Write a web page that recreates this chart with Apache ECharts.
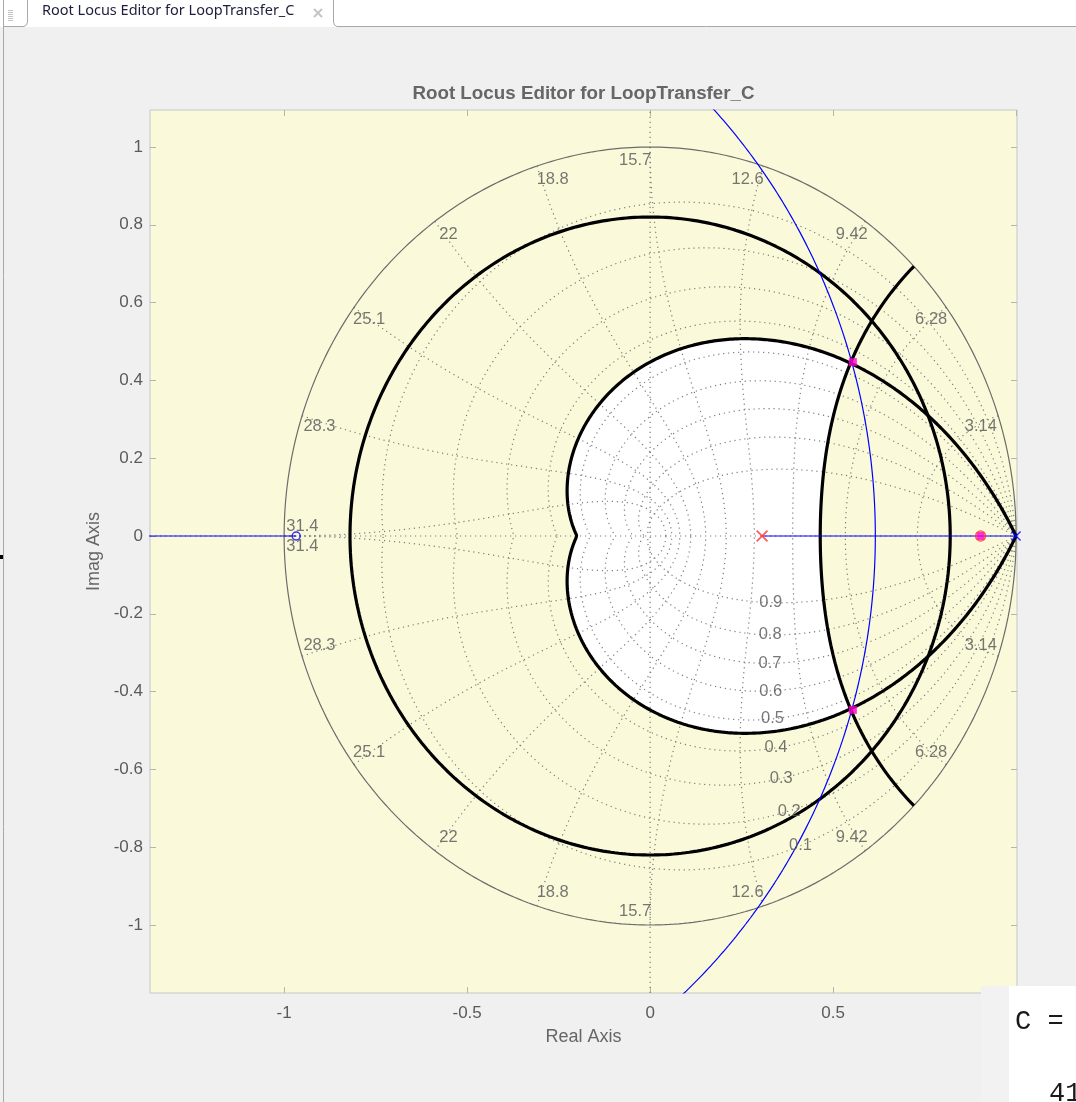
<!DOCTYPE html>
<html>
<head>
<meta charset="utf-8">
<title>Root Locus Editor for LoopTransfer_C</title>
<script src="https://cdn.jsdelivr.net/npm/echarts@6/dist/echarts.min.js"></script>
<style>
  html, body { margin: 0; padding: 0; background: #f0f0f0; }
  #chart { width: 1076px; height: 1102px; }
</style>
</head>
<body>
<div id="chart"></div>
<script>
// ---- z-plane grid (sample time 0.1 s) ----
const dampingGrid = [0.1, 0.2, 0.3, 0.4, 0.5, 0.6, 0.7, 0.8, 0.9];
const wnGridSteps = [1, 2, 3, 4, 5, 6, 7, 8, 9, 10];            // wn*T = k*pi/10
const wnGridLabels = ['3.14', '6.28', '9.42', '12.6', '15.7', '18.8', '22', '25.1', '28.3', '31.4'];
const dampingLabelWnT = 0.35 * Math.PI;                          // damping labels sit on this wn*T

// ---- design requirements ----
const overshootDamping = 0.456;   // 20 % overshoot boundary
const settlingRadius = 0.82;      // settling-time circle
const minWnT = 0.766;             // natural-frequency boundary (wn*T)

// ---- open-loop dynamics ----
const plantPoles = [1.0];
const plantZeros = [-0.967];
const compPoles = [0.306];
const compZeros = [0.903];
const closedLoopPoles = [[0.554, 0.447], [0.554, -0.447], [0.903, 0]];

// ---- axes ----
const xTicks = [-1, -0.5, 0, 0.5, 1];
const yTicks = [-1, -0.8, -0.6, -0.4, -0.2, 0, 0.2, 0.4, 0.6, 0.8, 1];
const xRange = [-1.3665, 1.0025];
const yRange = [-1.1748, 1.0951];

// ---- curve helpers ----
function zetaPoint(zeta, theta) {
  const a = zeta / Math.sqrt(1 - zeta * zeta);
  const r = Math.exp(-a * theta);
  return [r * Math.cos(theta), r * Math.sin(theta)];
}
function wnPoint(wT, zeta) {
  const r = Math.exp(-zeta * wT);
  const ang = wT * Math.sqrt(1 - zeta * zeta);
  return [r * Math.cos(ang), r * Math.sin(ang)];
}
function sampleZeta(zeta, t0, t1, n) {
  const out = [];
  for (let i = 0; i <= n; i++) out.push(zetaPoint(zeta, t0 + (t1 - t0) * i / n));
  return out;
}
// damping is swept as cos(t) so points are spread evenly along the curve
function sampleWn(wT, zFrom, zTo, n) {
  const a = Math.acos(zFrom), b = Math.acos(zTo), out = [];
  for (let i = 0; i <= n; i++) out.push(wnPoint(wT, Math.cos(a + (b - a) * i / n)));
  return out;
}
function mirror(pts) { return pts.map(p => [p[0], -p[1]]); }
function circle(cx, r, a0, a1, n) {
  const out = [];
  for (let i = 0; i <= n; i++) {
    const t = a0 + (a1 - a0) * i / n;
    out.push([cx + r * Math.cos(t), r * Math.sin(t)]);
  }
  return out;
}

// ---- allowed region (inside the damping curve, inside the wn curve) ----
const thetaCorner = minWnT * Math.sqrt(1 - overshootDamping * overshootDamping);
const upperWnEdge = sampleWn(minWnT, 1, overshootDamping, 80);
const upperZetaEdge = sampleZeta(overshootDamping, thetaCorner, Math.PI, 240);
const allowedRegion = [].concat(
  upperWnEdge, upperZetaEdge,
  mirror(upperZetaEdge).reverse(), mirror(upperWnEdge).reverse()
);

// ---- root locus branch: circle about the zero through both real poles ----
const locusRadius = Math.sqrt((plantPoles[0] - plantZeros[0]) * (compPoles[0] - plantZeros[0]));
const locusArc = circle(plantZeros[0], locusRadius, -1.3, 1.3, 400);

const FONT = 'Liberation Sans';
const dotted = { color: '#7c7c7c', width: 1.2, type: [1.2, 3.8] };

const series = [];

// allowed region fill
series.push({
  type: 'custom', coordinateSystem: 'cartesian2d', clip: true, silent: true, z: 1,
  data: [[0, 0]],
  renderItem: function (params, api) {
    return {
      type: 'polygon',
      shape: { points: allowedRegion.map(p => api.coord(p)) },
      style: { fill: '#ffffff' }
    };
  }
});

function addLine(data, lineStyle, z) {
  series.push({
    type: 'line', data: data, showSymbol: false, symbol: 'none', silent: true,
    lineStyle: lineStyle, z: z, clip: true
  });
}

// grid: constant damping curves
dampingGrid.forEach(zeta => {
  const up = sampleZeta(zeta, 0, Math.PI, 240);
  addLine(up, dotted, 2);
  addLine(mirror(up), dotted, 2);
});
// grid: constant natural frequency curves
wnGridSteps.forEach(k => {
  const up = sampleWn(k * Math.PI / 10, 0, 1, 120);
  addLine(up, dotted, 2);
  addLine(mirror(up), dotted, 2);
});
// real and imaginary axes
addLine([[xRange[0], 0], [xRange[1], 0]], dotted, 2);
addLine([[0, yRange[0]], [0, yRange[1]]], dotted, 2);
// unit circle
addLine(circle(0, 1, 0, 2 * Math.PI, 480), { color: '#6c6c6c', width: 1.2 }, 3);

// design requirement boundaries
const req = { color: '#000000', width: 3.2 };
addLine(circle(0, settlingRadius, 0, 2 * Math.PI, 480), req, 4);
const zetaBound = sampleZeta(overshootDamping, 0, Math.PI, 300);
addLine(zetaBound.concat(mirror(zetaBound).reverse()), req, 4);
const wnBound = sampleWn(minWnT, 0, 1, 120);
addLine(wnBound.concat(mirror(wnBound).reverse()), req, 4);

// root locus
const locusStyle = { color: '#0000ff', width: 1.2 };
addLine(locusArc, locusStyle, 5);
addLine([[compPoles[0], 0], [plantPoles[0], 0]], locusStyle, 5);
addLine([[xRange[0] - 1, 0], [plantZeros[0], 0]], locusStyle, 5);

// markers
const crossPath = 'path://M0,1L1,0L5,4L9,0L10,1L6,5L10,9L9,10L5,6L1,10L0,9L4,5Z';
function addMarkers(data, symbol, size, itemStyle) {
  series.push({
    type: 'scatter', data: data, symbol: symbol, symbolSize: size,
    itemStyle: itemStyle, silent: true, z: 6, clip: true
  });
}
addMarkers(closedLoopPoles, 'rect', 8, { color: '#ff00c8' });
addMarkers(compZeros.map(v => [v, 0]), 'circle', 10,
  { color: 'transparent', borderColor: '#ff4040', borderWidth: 1.5 });
addMarkers(compPoles.map(v => [v, 0]), crossPath, 12, { color: '#ff3030' });
addMarkers(plantPoles.map(v => [v, 0]), crossPath, 10, { color: '#0000ff' });
addMarkers(plantZeros.map(v => [v, 0]), 'circle', 8,
  { color: 'transparent', borderColor: '#0000ff', borderWidth: 1.5 });

// grid labels
const gridLabelStyle = {
  show: true, position: 'inside', formatter: '{b}',
  color: '#555555', fontSize: 16.5, fontFamily: FONT
};
const wnLabelData = [];
wnGridSteps.forEach((k, i) => {
  const th = k * Math.PI / 10;
  const s = Math.sin(th), c = Math.cos(th);
  const dy = k === 10 ? -10 : 10 - 16 * s;
  const dx = -Math.sign(c) * 15 * Math.pow(s, 8);     // pull the steep labels toward the imaginary axis
  const x = 0.95 * c, y = 0.95 * s;
  wnLabelData.push({ name: wnGridLabels[i], value: [x, y], label: { offset: [dx, dy] } });
  wnLabelData.push({ name: wnGridLabels[i], value: [x, -y], label: { offset: [dx, -dy] } });
});
const dampingLabelData = dampingGrid.map(zeta => {
  const p = wnPoint(dampingLabelWnT, zeta);
  return { name: String(zeta), value: [p[0], -p[1]] };
});
[wnLabelData, dampingLabelData].forEach(d => {
  series.push({
    type: 'scatter', data: d, symbolSize: 1, silent: true, z: 7,
    itemStyle: { color: 'transparent' }, label: gridLabelStyle
  });
});

const tickStyle = { show: true, inside: true, length: 6, lineStyle: { color: '#b4b4b4' } };
const hiddenLine = { show: false, onZero: false };
const chromeLine = { stroke: '#a8a8a8', lineWidth: 1, fill: 'none' };

const chart = echarts.init(document.getElementById('chart'), null, { renderer: 'canvas' });
chart.setOption({
  animation: false,
  backgroundColor: '#f0f0f0',
  textStyle: { fontFamily: FONT },
  title: {
    text: 'Root Locus Editor for LoopTransfer_C',
    left: 578.5, top: 88.5, textAlign: 'center', textVerticalAlign: 'middle',
    textStyle: { fontFamily: FONT, fontSize: 18.8, fontWeight: 'bold', color: '#666666' }
  },
  grid: {
    left: 150, top: 110, width: 867, height: 883,
    show: true, backgroundColor: '#fafadb', borderColor: '#c6c6c6', borderWidth: 1
  },
  xAxis: [{
    type: 'value', position: 'bottom', min: xRange[0], max: xRange[1],
    name: 'Real Axis', nameLocation: 'middle', nameGap: 35,
    nameTextStyle: { fontFamily: FONT, fontSize: 18, color: '#666666' },
    axisLine: hiddenLine, splitLine: { show: false },
    axisTick: Object.assign({ customValues: xTicks }, tickStyle),
    axisLabel: { customValues: xTicks, margin: 12, color: '#5a5a5a', fontSize: 17, fontFamily: FONT }
  }, {
    type: 'value', position: 'top', min: xRange[0], max: xRange[1],
    axisLine: hiddenLine, splitLine: { show: false },
    axisTick: Object.assign({ customValues: xTicks }, tickStyle),
    axisLabel: { show: false }
  }],
  yAxis: [{
    type: 'value', position: 'left', min: yRange[0], max: yRange[1],
    name: 'Imag Axis', nameLocation: 'middle', nameGap: 38,
    nameTextStyle: { fontFamily: FONT, fontSize: 18, color: '#666666' },
    axisLine: hiddenLine, splitLine: { show: false },
    axisTick: Object.assign({ customValues: yTicks }, tickStyle),
    axisLabel: { customValues: yTicks, margin: 7, color: '#5a5a5a', fontSize: 17, fontFamily: FONT }
  }, {
    type: 'value', position: 'right', min: yRange[0], max: yRange[1],
    axisLine: hiddenLine, splitLine: { show: false },
    axisTick: Object.assign({ customValues: yTicks }, tickStyle),
    axisLabel: { show: false }
  }],
  series: series,
  graphic: [
    // document tab strip
    { type: 'rect', shape: { x: 0, y: 0, width: 1076, height: 27 }, style: { fill: '#ffffff' }, z: 10 },
    { type: 'polyline', shape: { points: [[27.5, 0], [27.5, 22], [26.5, 25], [24, 26.5], [3.5, 26.5]] },
      style: chromeLine, z: 11 },
    { type: 'polyline', shape: { points: [[333.5, 0], [333.5, 22], [334.5, 25], [337, 26.5], [1076, 26.5]] },
      style: chromeLine, z: 11 },
    { type: 'line', shape: { x1: 3.5, y1: 0, x2: 3.5, y2: 1102 }, style: chromeLine, z: 11 },
    { type: 'group', z: 11, children: [10.5, 12.5, 14.5, 16.5, 18.5, 20.5].map(y => ({
        type: 'line', shape: { x1: 8, y1: y, x2: 13, y2: y },
        style: { stroke: '#c4c4c4', lineWidth: 1 }, z: 11 })) },
    { type: 'text', x: 42, y: 18, z: 11,
      style: { text: 'Root Locus Editor for LoopTransfer_C', fill: '#1e1e3c',
               fontSize: 14.5, fontFamily: 'Noto Sans', verticalAlign: 'bottom' } },
    { type: 'line', shape: { x1: 314, y1: 9, x2: 322, y2: 17 }, style: { stroke: '#c4c4c4', lineWidth: 2 }, z: 11 },
    { type: 'line', shape: { x1: 322, y1: 9, x2: 314, y2: 17 }, style: { stroke: '#c4c4c4', lineWidth: 2 }, z: 11 },
    { type: 'rect', shape: { x: 0, y: 555, width: 3, height: 4 }, style: { fill: '#000000' }, z: 11 },
    // command window corner
    { type: 'rect', shape: { x: 981, y: 986, width: 95, height: 116 }, style: { fill: '#f2f2f2' }, z: 100 },
    { type: 'rect', shape: { x: 1009, y: 986, width: 67, height: 116 }, style: { fill: '#ffffff' }, z: 100 },
    { type: 'text', x: 1015, y: 1021.5, z: 101,
      style: { text: 'C =', fill: '#1a1a1a', fontSize: 27, fontFamily: 'Liberation Mono', verticalAlign: 'middle' } },
    { type: 'text', x: 1049, y: 1094, z: 101,
      style: { text: '41', fill: '#1a1a1a', fontSize: 27, fontFamily: 'Liberation Mono', verticalAlign: 'middle' } }
  ]
});
</script>
</body>
</html>
